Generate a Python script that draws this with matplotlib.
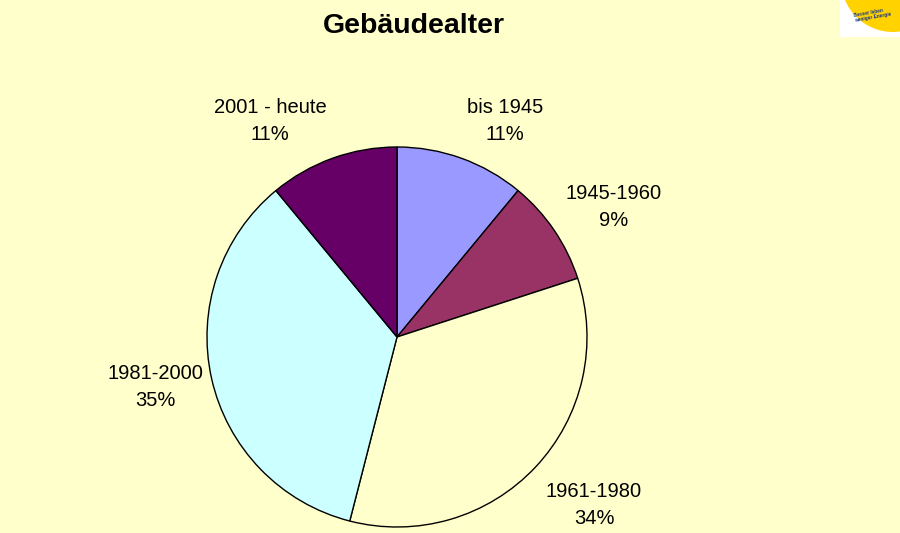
import matplotlib
matplotlib.use("Agg")
import matplotlib.pyplot as plt
from matplotlib.patches import Rectangle, Circle

categories = ["bis 1945", "1945-1960", "1961-1980", "1981-2000", "2001 - heute"]
values = [11, 9, 34, 35, 11]
colors = ["#9999FF", "#993366", "#FFFFCC", "#CCFFFF", "#660066"]
title = "Gebäudealter"

BG = "#FFFFCC"
W, H = 900, 533
fig = plt.figure(figsize=(9, 5.33), dpi=100, facecolor=BG)
ax = fig.add_axes([0, 0, 1, 1])

cx, cy, r = 397, H - 337, 190
wedges, _ = ax.pie(values, colors=colors, startangle=90, counterclock=False,
                   center=(cx, cy), radius=r, frame=True,
                   wedgeprops=dict(edgecolor="black", linewidth=1.0))
ax.set_xlim(0, W)
ax.set_ylim(0, H)
ax.set_aspect("equal")
ax.axis("off")

# label anchor positions (pixel coords, y down) as Excel placed them
label_pos = [(505, 121), (614, 207), (594, 505), (155, 387), (270, 121)]
for cat, v, (lx, ly) in zip(categories, values, label_pos):
    ax.text(lx, H - ly, f"{cat}\n{v}%", ha="center", va="center",
            fontsize=14.5, family="Liberation Sans", linespacing=1.55)

ax.text(414, H - 26, title, ha="center", va="center", fontsize=20.5,
        fontweight="bold", family="Liberation Sans")

# logo corner
clip = Rectangle((840, H - 37), 60, 37, transform=ax.transData)
ax.add_patch(Rectangle((840, H - 37), 60, 37, facecolor="white", edgecolor="none", zorder=5))
logo = Circle((893, H + 20), 52, facecolor="#FFD200", edgecolor="none", zorder=6)
ax.add_patch(logo)
logo.set_clip_path(clip)
ax.text(853, H - 15, "Besser leben\nweniger Energie", fontsize=3.4, color="#1a3a8a",
        fontweight="bold", rotation=10, va="center", ha="left", zorder=7,
        family="Liberation Sans", linespacing=1.1)

fig.savefig("out.png", dpi=100, facecolor=BG)
